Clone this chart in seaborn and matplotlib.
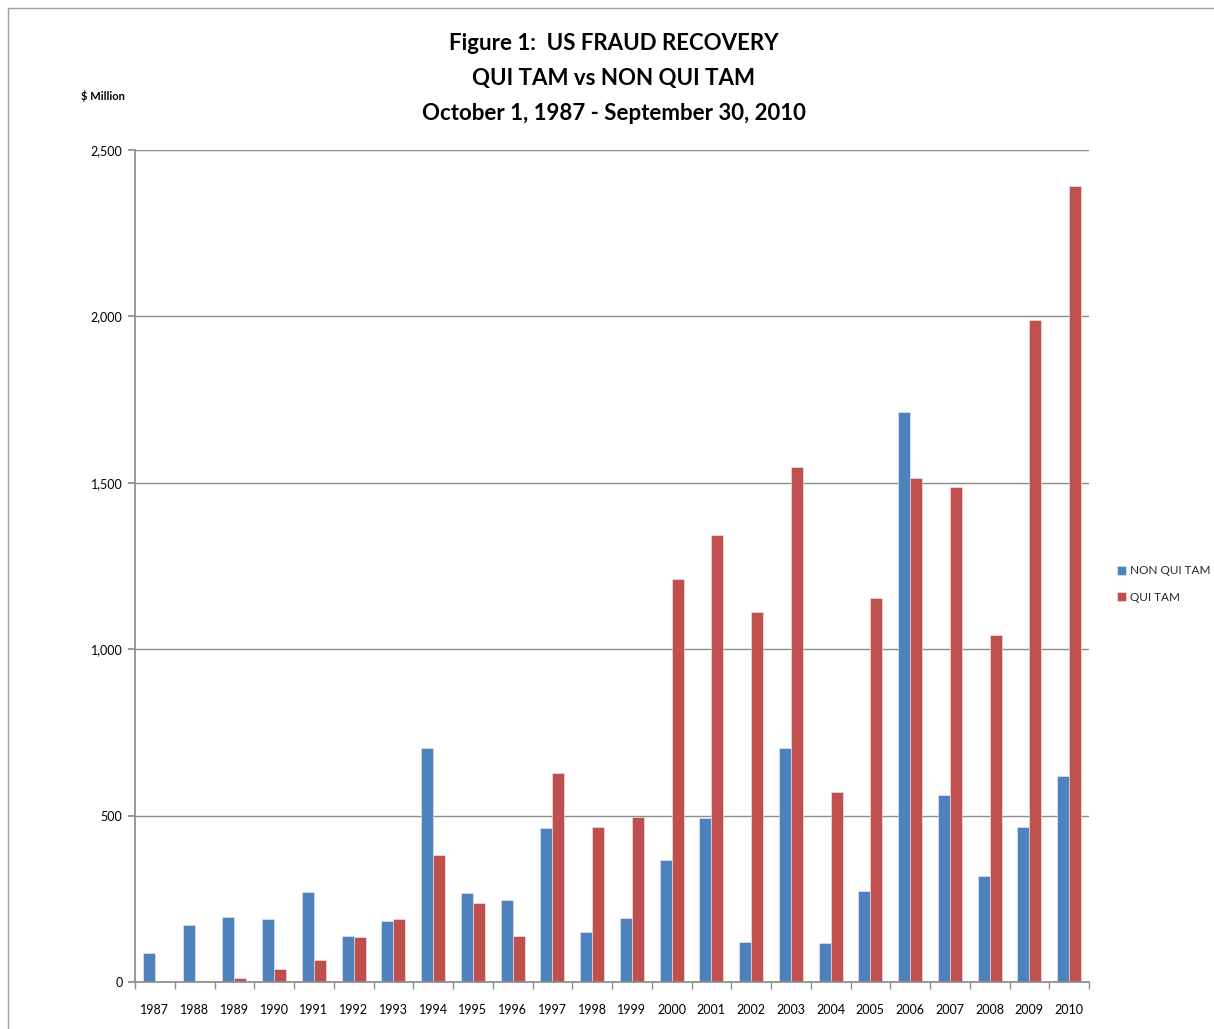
import matplotlib
matplotlib.use("Agg")
import matplotlib.pyplot as plt
import seaborn as sns
import pandas as pd
from matplotlib.lines import Line2D
from matplotlib.ticker import FuncFormatter, MultipleLocator, FixedLocator

years = [str(y) for y in range(1987, 2011)]
non_qui_tam = [86, 171, 196, 189, 270, 137, 182, 703, 266, 245, 464, 150, 193, 367,
               493, 120, 704, 116, 274, 1712, 562, 318, 467, 619]
qui_tam = [0, 2, 12, 38, 67, 134, 189, 382, 236, 137, 627, 466, 497, 1211,
           1344, 1111, 1547, 571, 1155, 1513, 1488, 1044, 1989, 2393]
series_names = ["NON QUI TAM", "QUI TAM"]
colors = ["#4F81BD", "#C0504D"]
title_lines = ["Figure 1:  US FRAUD RECOVERY", "QUI TAM vs NON QUI TAM",
               "October 1, 1987 - September 30, 2010"]

df = pd.DataFrame({
    "year": years * 2,
    "value": non_qui_tam + qui_tam,
    "series": [series_names[0]] * len(years) + [series_names[1]] * len(years),
})

sns.set_theme(style="white")
plt.rcParams["font.family"] = ["Lato", "DejaVu Sans"]

fig = plt.figure(figsize=(12.14, 10.29), dpi=100)
ax = fig.add_axes([135 / 1214, 1 - 982 / 1029, (1089 - 135) / 1214, (982 - 150) / 1029])

sns.barplot(data=df, x="year", y="value", hue="series", palette=colors,
            width=0.6, ax=ax, saturation=1, edgecolor="#e8eef7", linewidth=0.4)

ax.set_ylim(0, 2500)
ax.set_xlim(-0.5, len(years) - 0.5)
ax.yaxis.set_major_locator(MultipleLocator(500))
ax.yaxis.set_major_formatter(FuncFormatter(lambda v, p: f"{int(v):,}"))
ax.grid(axis="y", color="#8c8c8c", linewidth=1)
ax.set_axisbelow(True)
for s in ["top", "right"]:
    ax.spines[s].set_visible(False)
ax.spines["left"].set_color("#8c8c8c")
ax.spines["bottom"].set_color("#8c8c8c")
ax.set_xlabel("")
ax.set_ylabel("")
ax.tick_params(axis="y", which="major", left=True, length=5, color="#8c8c8c",
               labelsize=9, pad=4, labelcolor="#000000")
ax.tick_params(axis="x", which="major", bottom=False, labelsize=9, pad=10, labelcolor="#000000")
ax.xaxis.set_minor_locator(FixedLocator([i - 0.5 for i in range(len(years) + 1)]))
ax.tick_params(axis="x", which="minor", bottom=True, length=5, color="#8c8c8c")

handles, labels = ax.get_legend_handles_labels()
ax.legend(handles, labels, loc="center left", bbox_to_anchor=(1106 / 1214, 1 - 584 / 1029),
          bbox_transform=fig.transFigure, frameon=False, fontsize=8.5,
          handlelength=0.8, handleheight=0.8, handletextpad=0.3, labelspacing=1.3)

ys = [43, 78, 113]
for t, y in zip(title_lines, ys):
    fig.text(614 / 1214, 1 - y / 1029, t, ha="center", va="center",
             fontsize=16, fontweight="bold", color="#000000")
fig.text(103 / 1214, 1 - 96 / 1029, "$ Million", ha="center", va="center",
         fontsize=8, fontweight="bold", color="#000000")

fig.add_artist(Line2D([8 / 1214, 1], [1 - 8 / 1029, 1 - 8 / 1029], color="#a0a0a0", linewidth=1))
fig.add_artist(Line2D([8 / 1214, 8 / 1214], [0, 1 - 8 / 1029], color="#a0a0a0", linewidth=1))

fig.savefig("out.png", dpi=100)
